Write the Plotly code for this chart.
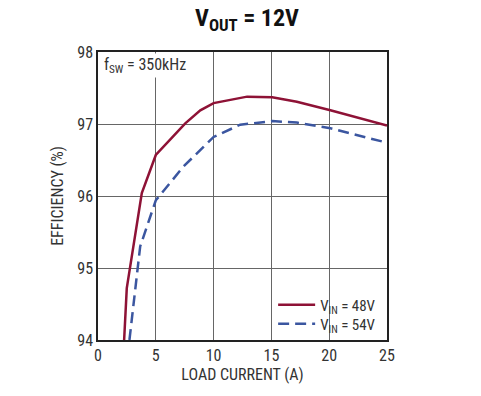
import plotly.graph_objects as go

# Data
load_48 = [2.26, 2.49, 3.79, 5.0, 7.55, 8.85, 10.0, 11.46, 12.9, 15.07, 17.2, 20.1, 25.0]
eff_48 = [94.0, 94.72, 96.04, 96.57, 97.01, 97.19, 97.29, 97.34, 97.38, 97.37, 97.31, 97.19, 96.98]

load_54 = [2.72, 3.65, 5.0, 7.4, 10.0, 12.3, 15.07, 17.2, 20.1, 25.0]
eff_54 = [94.0, 95.30, 95.94, 96.41, 96.82, 96.99, 97.04, 97.02, 96.94, 96.74]

x_ticks = [0, 5, 10, 15, 20, 25]
y_ticks = [94, 95, 96, 97, 98]

FONT = "Liberation Sans Narrow, Roboto Condensed, Arial Narrow, Liberation Sans, sans-serif"
RED = "#8E1236"
BLUE = "#3B56A0"
TXT = "#333"

fig = go.Figure()
fig.add_trace(go.Scatter(x=load_48, y=eff_48, mode="lines", name="V<sub>IN</sub> = 48V",
                         line=dict(color=RED, width=2.5), legend="legend"))
fig.add_trace(go.Scatter(x=load_54, y=eff_54, mode="lines", name="V<sub>IN</sub> = 54V",
                         line=dict(color=BLUE, width=2.5, dash="11px,6px"), legend="legend2"))

leg_common = dict(xanchor="left", yanchor="middle", bgcolor="rgba(0,0,0,0)", borderwidth=0,
                  font=dict(size=15, color=TXT), itemwidth=37)

fig.update_layout(
    width=481, height=396,
    margin=dict(l=98, r=94, t=52, b=56),
    paper_bgcolor="white", plot_bgcolor="white",
    font=dict(family=FONT, size=16, color=TXT),
    showlegend=True,
    legend=dict(x=0.606, y=(340 - 305) / 288.0, **leg_common),
    legend2=dict(x=0.606, y=(340 - 324) / 288.0, **leg_common),
    xaxis=dict(range=[0, 25], tickvals=x_ticks, showgrid=True, gridcolor="#666", gridwidth=1,
               showline=True, linecolor="#222", linewidth=1.5, mirror=True, zeroline=False,
               ticks="", tickfont=dict(size=16, color=TXT),
               title=dict(text="LOAD CURRENT (A)", font=dict(size=16, color=TXT), standoff=4)),
    yaxis=dict(range=[94, 98], tickvals=y_ticks, showgrid=True, gridcolor="#666", gridwidth=1,
               showline=True, linecolor="#222", linewidth=1.5, mirror=True, zeroline=False,
               ticks="", tickfont=dict(size=16, color=TXT),
               title=dict(text="EFFICIENCY (%)", font=dict(size=16, color=TXT), standoff=10)),
)

# white backdrop behind the legend, hiding the grid there
fig.add_shape(type="rect", xref="paper", yref="paper", x0=0.605, x1=1.0, y0=0.0, y1=0.17,
              fillcolor="white", line=dict(width=0), layer="between")

fig.add_annotation(x=0.015, y=0.995, xref="paper", yref="paper", xanchor="left", yanchor="top",
                   text="f<sub>SW</sub> = 350kHz", showarrow=False, bgcolor="white",
                   font=dict(size=16, color=TXT))
fig.add_annotation(x=0.515, y=1.0 + (52 - 19) / 288.0, xref="paper", yref="paper", yanchor="middle",
                   text="<b>V<sub>OUT</sub> = 12V</b>", showarrow=False,
                   font=dict(size=24, color="#111"))

fig.write_html("out.html", config={"displayModeBar": False},
               post_script="document.body.style.margin='0';")
